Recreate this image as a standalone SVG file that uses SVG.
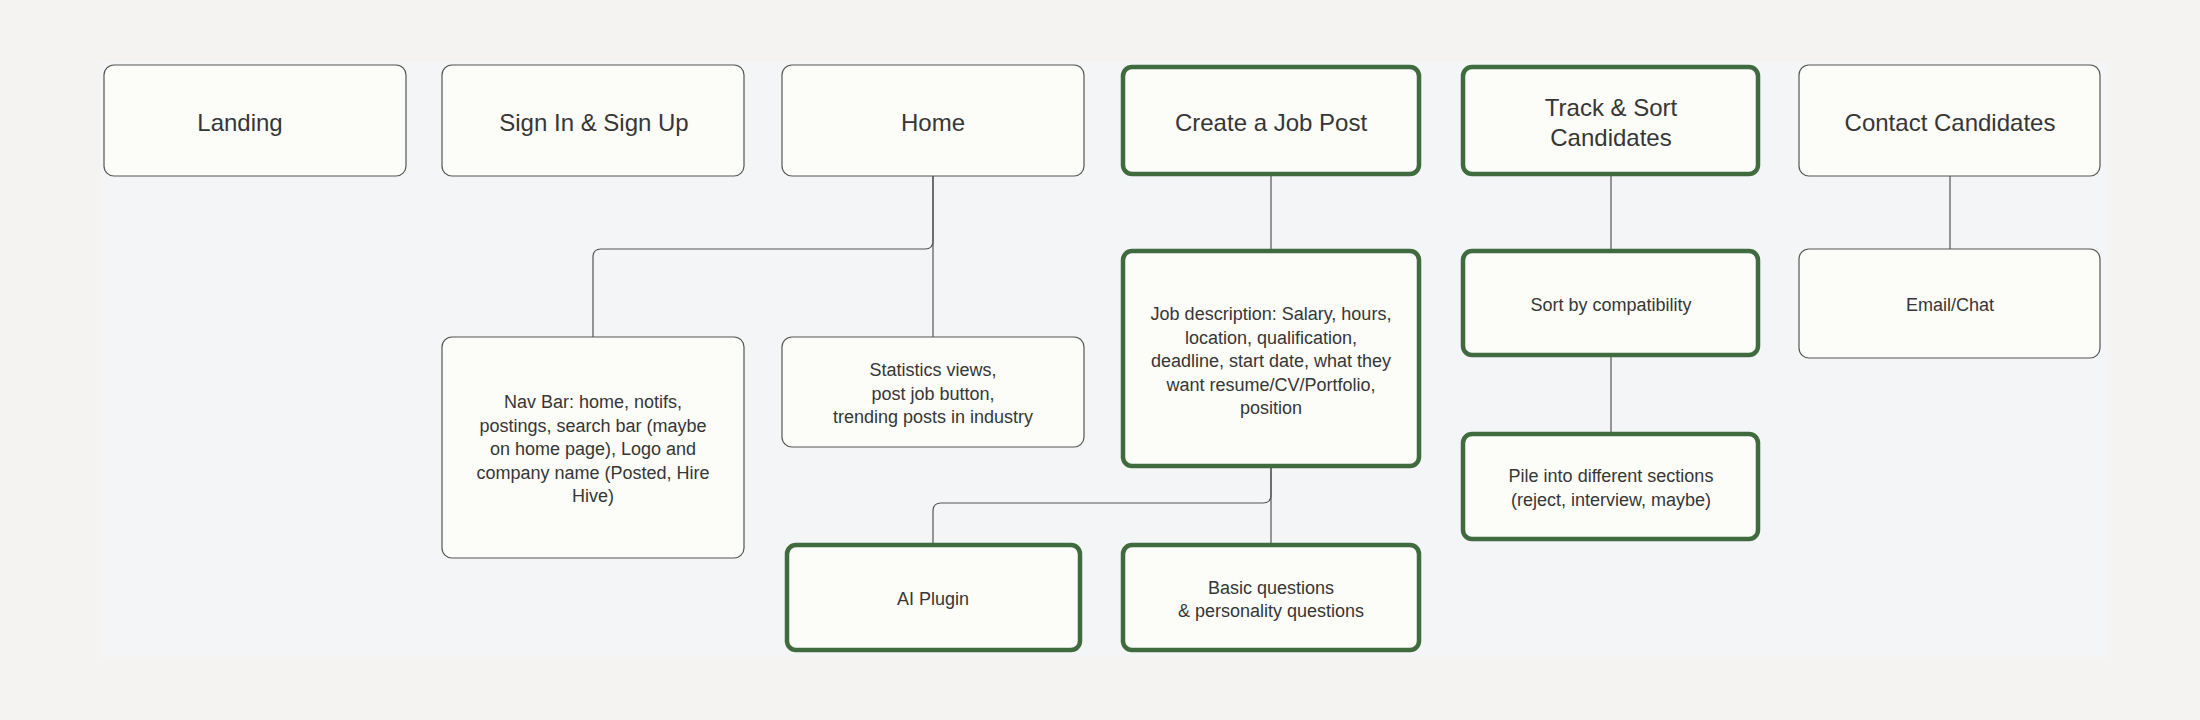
<svg xmlns="http://www.w3.org/2000/svg" width="2200" height="720" viewBox="0 0 2200 720">
<style>
.box{fill:#fcfcf8;stroke:#555;stroke-width:1.2}
.gbox{fill:#fcfcf8;stroke:#3f6b3f;stroke-width:4.5}
.t{font-family:"Liberation Sans",Arial,sans-serif;fill:#363636;text-anchor:middle;dominant-baseline:central}
.big{font-size:24px}
.sm{font-size:18px}
.conn{fill:none;stroke:#555;stroke-width:1.2}
</style>
<rect x="0" y="0" width="2200" height="720" fill="#f4f3f2"/>
<rect x="100" y="62" width="2008" height="595" fill="#f4f5f6"/>
<g id="connectors">
<path class="conn" d="M933,176 V337"/>
<path class="conn" d="M933,176 V241 Q933,249 925,249 H601 Q593,249 593,257 V337"/>
<path class="conn" d="M1271,176 V249"/>
<path class="conn" d="M1271,468 V543"/>
<path class="conn" d="M1271,468 V495 Q1271,503 1263,503 H941 Q933,503 933,511 V543"/>
<path class="conn" d="M1611,176 V249"/>
<path class="conn" d="M1611,357 V432"/>
<path class="conn" d="M1950,176 V249"/>
</g>
<g id="landing">
<rect class="box" x="104" y="65" width="302" height="111" rx="10"/>
<text class="t big" x="240" y="122">Landing</text>
</g>
<g id="signin">
<rect class="box" x="442" y="65" width="302" height="111" rx="10"/>
<text class="t big" x="594" y="122">Sign In &amp; Sign Up</text>
</g>
<g id="home">
<rect class="box" x="782" y="65" width="302" height="111" rx="10"/>
<text class="t big" x="933" y="122">Home</text>
</g>
<g id="create">
<rect class="gbox" x="1123" y="67" width="296" height="107" rx="9"/>
<text class="t big" x="1271" y="122">Create a Job Post</text>
</g>
<g id="track">
<rect class="gbox" x="1463" y="67" width="295" height="107" rx="9"/>
<text class="t big" x="1611" y="107">Track &amp; Sort</text>
<text class="t big" x="1611" y="137">Candidates</text>
</g>
<g id="contact">
<rect class="box" x="1799" y="65" width="301" height="111" rx="10"/>
<text class="t big" x="1950" y="122">Contact Candidates</text>
</g>
<g id="navbar">
<rect class="box" x="442" y="337" width="302" height="221" rx="10"/>
<text class="t sm" x="593" y="402">Nav Bar: home, notifs,</text>
<text class="t sm" x="593" y="425.5">postings, search bar (maybe</text>
<text class="t sm" x="593" y="449">on home page), Logo and</text>
<text class="t sm" x="593" y="472.5">company name (Posted, Hire</text>
<text class="t sm" x="593" y="496">Hive)</text>
</g>
<g id="stats">
<rect class="box" x="782" y="337" width="302" height="110" rx="10"/>
<text class="t sm" x="933" y="370">Statistics views,</text>
<text class="t sm" x="933" y="393.5">post job button,</text>
<text class="t sm" x="933" y="417">trending posts in industry</text>
</g>
<g id="jobdesc">
<rect class="gbox" x="1123" y="251" width="296" height="215" rx="9"/>
<text class="t sm" x="1271" y="314">Job description: Salary, hours,</text>
<text class="t sm" x="1271" y="337.5">location, qualification,</text>
<text class="t sm" x="1271" y="361">deadline, start date, what they</text>
<text class="t sm" x="1271" y="384.5">want resume/CV/Portfolio,</text>
<text class="t sm" x="1271" y="408">position</text>
</g>
<g id="sort">
<rect class="gbox" x="1463" y="251" width="295" height="104" rx="9"/>
<text class="t sm" x="1611" y="305">Sort by compatibility</text>
</g>
<g id="email">
<rect class="box" x="1799" y="249" width="301" height="109" rx="10"/>
<text class="t sm" x="1950" y="305">Email/Chat</text>
</g>
<g id="pile">
<rect class="gbox" x="1463" y="434" width="295" height="105" rx="9"/>
<text class="t sm" x="1611" y="476">Pile into different sections</text>
<text class="t sm" x="1611" y="499.5">(reject, interview, maybe)</text>
</g>
<g id="aiplugin">
<rect class="gbox" x="787" y="545" width="293" height="105" rx="9"/>
<text class="t sm" x="933" y="599">AI Plugin</text>
</g>
<g id="basic">
<rect class="gbox" x="1123" y="545" width="296" height="105" rx="9"/>
<text class="t sm" x="1271" y="587.5">Basic questions</text>
<text class="t sm" x="1271" y="611">&amp; personality questions</text>
</g>
</svg>
